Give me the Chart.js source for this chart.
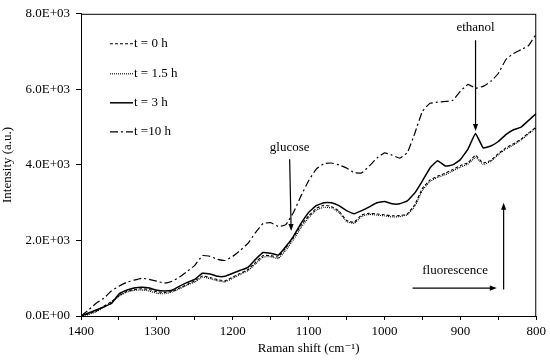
<!DOCTYPE html>
<html>
<head>
<meta charset="utf-8">
<script src="https://cdn.jsdelivr.net/npm/chart.js@4.4.0/dist/chart.umd.min.js"></script>
<style>
  html, body { margin: 0; padding: 0; background: #fff; }
  #wrap { width: 550px; height: 360px; }
</style>
</head>
<body>
<div id="wrap"><canvas id="chart"></canvas></div>
<script>
// Raman shift (cm-1)
const shifts = [1400, 1390, 1380, 1370, 1360, 1350, 1340, 1330, 1320, 1310,
  1300, 1290, 1280, 1270, 1260, 1250, 1240, 1230, 1220, 1210,
  1200, 1190, 1180, 1170, 1160, 1150, 1140, 1130, 1120, 1110,
  1100, 1090, 1080, 1070, 1060, 1050, 1040, 1030, 1020, 1010,
  1000, 990, 980, 970, 960, 950, 940, 930, 920, 910,
  900, 890, 880, 870, 860, 850, 840, 830, 820, 810, 800];

const t0 = [0, 60, 130, 260, 380, 540, 650, 700, 720, 700,
  640, 620, 650, 740, 840, 930, 1060, 1020, 960, 930,
  1030, 1130, 1230, 1420, 1600, 1600, 1560, 1800, 2080, 2400,
  2650, 2850, 2930, 2900, 2780, 2530, 2480, 2680, 2720, 2700,
  2680, 2650, 2660, 2700, 2950, 3380, 3600, 3700, 3780, 3880,
  3980, 4060, 4250, 4050, 4120, 4300, 4450, 4560, 4680, 4850, 5000];

const t15 = [0, 40, 110, 230, 350, 520, 630, 680, 690, 660,
  600, 590, 630, 720, 820, 900, 1030, 990, 930, 900,
  1000, 1100, 1200, 1380, 1560, 1570, 1520, 1740, 2020, 2340,
  2600, 2800, 2880, 2860, 2740, 2500, 2450, 2640, 2690, 2670,
  2650, 2620, 2630, 2680, 2900, 3330, 3560, 3670, 3740, 3840,
  3940, 4020, 4200, 4010, 4090, 4270, 4420, 4530, 4660, 4820, 4980];

const t3 = [0, 80, 160, 240, 330, 580, 680, 740, 760, 740,
  680, 660, 680, 790, 890, 970, 1130, 1110, 1050, 1050,
  1130, 1210, 1290, 1500, 1680, 1660, 1610, 1840, 2110, 2450,
  2740, 2920, 3000, 3000, 2920, 2790, 2710, 2790, 2890, 3000,
  3030, 2970, 2970, 3050, 3260, 3580, 3920, 4110, 3970, 4000,
  4140, 4420, 4830, 4450, 4500, 4620, 4800, 4930, 5000, 5180, 5360];

const t10 = [0, 160, 340, 470, 660, 790, 890, 950, 1000, 970,
  920, 870, 920, 1030, 1180, 1340, 1600, 1580, 1500, 1470,
  1580, 1740, 1920, 2210, 2450, 2470, 2370, 2420, 2740, 3180,
  3580, 3890, 4030, 4050, 4000, 3920, 3790, 3790, 3970, 4180,
  4320, 4260, 4180, 4320, 4840, 5420, 5630, 5660, 5680, 5710,
  5950, 6130, 6030, 6080, 6210, 6420, 6790, 6950, 7050, 7160, 7470];

const labels = ['t = 0 h', 't = 1.5 h', 't = 3 h', 't =10 h'];
const yTicks = [0, 2000, 4000, 6000, 8000];

const serif = '"Liberation Serif", "DejaVu Serif", serif';

const sci = v => {
  if (v === 0) return '0.0E+00';
  const e = Math.floor(Math.log10(v));
  return (v / Math.pow(10, e)).toFixed(1) + 'E+' + String(e).padStart(2, '0');
};

const toPoints = vals => shifts.map((s, i) => ({ x: s, y: vals[i] }));

const line = (label, vals, width, dash) => ({
  label: label,
  data: toPoints(vals),
  borderColor: '#000',
  borderWidth: width,
  borderDash: dash,
  pointRadius: 0,
  tension: 0.1,
  fill: false
});

const arrow = (ctx, x1, y1, x2, y2) => {
  const ang = Math.atan2(y2 - y1, x2 - x1);
  const len = 7, half = 2.6;
  ctx.beginPath();
  ctx.moveTo(x1, y1);
  ctx.lineTo(x2 - Math.cos(ang) * len * 0.8, y2 - Math.sin(ang) * len * 0.8);
  ctx.stroke();
  ctx.beginPath();
  ctx.moveTo(x2, y2);
  ctx.lineTo(x2 - Math.cos(ang) * len - Math.sin(ang) * half, y2 - Math.sin(ang) * len + Math.cos(ang) * half);
  ctx.lineTo(x2 - Math.cos(ang) * len + Math.sin(ang) * half, y2 - Math.sin(ang) * len - Math.cos(ang) * half);
  ctx.closePath();
  ctx.fill();
};

// frame, legend and the text/arrow notes
const overlay = {
  id: 'overlay',
  afterDatasetsDraw(chart) {
    const { ctx, chartArea: a, scales: { x, y } } = chart;
    ctx.save();
    ctx.strokeStyle = '#000';
    ctx.fillStyle = '#000';
    ctx.lineWidth = 1;
    ctx.setLineDash([]);
    ctx.strokeRect(a.left + 0.5, a.top + 0.5, a.right - a.left - 1, a.bottom - a.top);

    ctx.font = '13px ' + serif;
    ctx.textBaseline = 'middle';
    const rows = [30, 60, 89, 118];
    chart.data.datasets.forEach((ds, i) => {
      const yy = a.top + rows[i];
      ctx.save();
      ctx.lineWidth = ds.borderWidth;
      ctx.setLineDash(ds.borderDash || []);
      ctx.beginPath();
      ctx.moveTo(a.left + 29, yy);
      ctx.lineTo(a.left + 52, yy);
      ctx.stroke();
      ctx.restore();
      ctx.textAlign = 'left';
      ctx.fillText(ds.label, a.left + 53, yy);
    });

    ctx.textAlign = 'center';
    ctx.lineWidth = 1.2;
    ctx.fillText('glucose', x.getPixelForValue(1125), y.getPixelForValue(4450));
    arrow(ctx, x.getPixelForValue(1125), y.getPixelForValue(4150),
      x.getPixelForValue(1123), y.getPixelForValue(2250));

    ctx.fillText('ethanol', x.getPixelForValue(880), y.getPixelForValue(7640));
    arrow(ctx, x.getPixelForValue(880), y.getPixelForValue(7300),
      x.getPixelForValue(880), y.getPixelForValue(4900));

    ctx.fillText('fluorescence', x.getPixelForValue(907), y.getPixelForValue(1210));
    arrow(ctx, x.getPixelForValue(963), y.getPixelForValue(740),
      x.getPixelForValue(852), y.getPixelForValue(740));
    arrow(ctx, x.getPixelForValue(843), y.getPixelForValue(700),
      x.getPixelForValue(843), y.getPixelForValue(3000));
    ctx.restore();
  }
};

new Chart(document.getElementById('chart'), {
  type: 'line',
  data: {
    datasets: [
      line(labels[0], t0, 1.1, [3, 2]),
      line(labels[1], t15, 1.1, [1, 1]),
      line(labels[2], t3, 1.5, []),
      line(labels[3], t10, 1.2, [8, 3, 2, 3])
    ]
  },
  options: {
    responsive: true,
    maintainAspectRatio: false,
    animation: false,
    layout: { padding: { left: 0, right: 13, top: 12, bottom: 0 } },
    plugins: { legend: { display: false }, tooltip: { enabled: false } },
    scales: {
      x: {
        type: 'linear',
        reverse: true,
        min: 800,
        max: 1400,
        afterFit: s => { s.height = 44; },
        ticks: {
          stepSize: 50,
          autoSkip: false,
          maxRotation: 0,
          padding: 4,
          color: '#000',
          font: { family: serif, size: 13 },
          callback: v => (v % 100 === 0 ? String(v) : '')
        },
        grid: { drawOnChartArea: false, drawTicks: true, tickLength: 4, color: '#000' },
        border: { display: true, color: '#000', width: 1 },
        title: {
          display: true,
          text: 'Raman shift (cm⁻¹)',
          color: '#000',
          font: { family: serif, size: 13 },
          padding: { top: 0, bottom: 4 }
        }
      },
      y: {
        min: 0,
        max: 8000,
        afterFit: s => { s.width = 81; },
        afterBuildTicks: s => { s.ticks = yTicks.map(v => ({ value: v })); },
        ticks: {
          padding: 6,
          color: '#000',
          font: { family: serif, size: 13 },
          callback: v => sci(v)
        },
        grid: { drawOnChartArea: false, drawTicks: true, tickLength: 5, color: '#000' },
        border: { display: true, color: '#000', width: 1 },
        title: {
          display: true,
          text: 'Intensity (a.u.)',
          color: '#000',
          font: { family: serif, size: 13 },
          padding: { top: 0, bottom: 2 }
        }
      }
    }
  },
  plugins: [overlay]
});
</script>
</body>
</html>
